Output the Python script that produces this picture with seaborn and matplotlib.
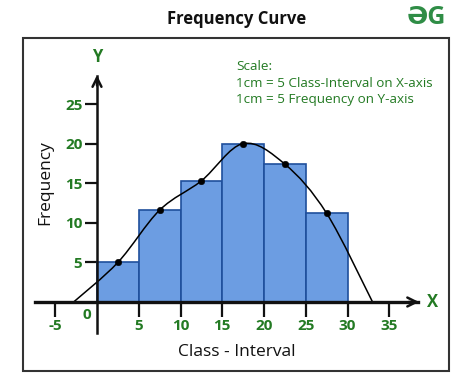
import numpy as np
import pandas as pd
import matplotlib
matplotlib.use("Agg")
import matplotlib.pyplot as plt
import seaborn as sns
from matplotlib.path import Path
from matplotlib.patches import PathPatch, Rectangle

# ---- data ----
class_edges = [0, 5, 10, 15, 20, 25, 30]
class_mids = [2.5, 7.5, 12.5, 17.5, 22.5, 27.5]
frequencies = [5, 11.6, 15.3, 20, 17.4, 11.2]
curve_start = (-2.8, 0)
curve_end = (33.0, 0)
x_tick_values = [-5, 5, 10, 15, 20, 25, 30, 35]
y_tick_values = [5, 10, 15, 20, 25]
scale_lines = ["Scale:", "1cm = 5 Class-Interval on X-axis", "1cm = 5 Frequency on Y-axis"]

GREEN = "#237a23"
BAR = "#6c9de2"
EDGE = "#1f4f9c"
FONT = ["Open Sans", "DejaVu Sans"]

sns.set_style("white")
plt.rcParams["font.family"] = FONT

W, H = 474, 392
fig = plt.figure(figsize=(W / 100, H / 100), dpi=100)
# axes box = frame (23,38)-(449,371) in pixels
ax = fig.add_axes([23 / W, 1 - 371 / H, (449 - 23) / W, (371 - 38) / H])

px_x = 8.35
px_y = 7.92
x0p, y0p = 97, 302
ax.set_xlim((23 - x0p) / px_x, (449 - x0p) / px_x)
ax.set_ylim((y0p - 371) / px_y, (y0p - 38) / px_y)

df = pd.DataFrame({"mid": class_mids, "freq": frequencies})
sns.histplot(data=df, x="mid", weights="freq", bins=class_edges, ax=ax,
             color=BAR, alpha=1, edgecolor=EDGE, linewidth=1.2, zorder=2)

# smooth curve (Catmull-Rom -> Bezier) through the points
pts = np.array([curve_start] + list(zip(class_mids, frequencies)) + [curve_end], dtype=float)
ext = np.vstack([pts[0], pts, pts[-1]])
verts = [tuple(pts[0])]
codes = [Path.MOVETO]
for i in range(1, len(ext) - 2):
    p0, p1, p2, p3 = ext[i - 1], ext[i], ext[i + 1], ext[i + 2]
    c1 = p1 + (p2 - p0) / 6
    c2 = p2 - (p3 - p1) / 6
    verts += [tuple(c1), tuple(c2), tuple(p2)]
    codes += [Path.CURVE4] * 3
ax.add_patch(PathPatch(Path(verts, codes), facecolor="none", edgecolor="black", lw=1.1, zorder=4))
sns.scatterplot(x=class_mids, y=frequencies, ax=ax, color="black", s=22, zorder=5, edgecolor="black")

# axes lines as spines
for s in ["top", "right"]:
    ax.spines[s].set_visible(False)
ax.spines["left"].set_position(("data", 0))
ax.spines["bottom"].set_position(("data", 0))
ax.spines["left"].set_bounds(-3.9, 28.5)
ax.spines["bottom"].set_bounds(-7.4, 38.5)
ax.spines["left"].set_linewidth(1.8)
ax.spines["bottom"].set_linewidth(2.4)
ax.spines["left"].set_color("#111")
ax.spines["bottom"].set_color("#111")
ax.spines["left"].set_zorder(6)
ax.spines["bottom"].set_zorder(6)
ax.annotate("", xy=(0, 29.0), xytext=(0, 27.0),
            arrowprops=dict(arrowstyle="->", lw=1.8, color="#111", mutation_scale=16))
ax.annotate("", xy=(38.9, 0), xytext=(37.0, 0),
            arrowprops=dict(arrowstyle="->", lw=1.8, color="#111", mutation_scale=16))

ax.set_xticks(x_tick_values)
ax.set_xticklabels([str(v) for v in x_tick_values])
ax.set_yticks(y_tick_values)
ax.set_yticklabels([str(v) for v in y_tick_values])
ax.tick_params(axis="x", direction="out", length=10.5, width=1.6, color="#111", pad=2,
               labelsize=11, labelcolor=GREEN, bottom=True)
ax.tick_params(axis="y", direction="out", length=8.5, width=1.6, color="#111", pad=2,
               labelsize=11, labelcolor=GREEN, left=True)
for lab in ax.get_xticklabels() + ax.get_yticklabels():
    lab.set_fontweight("bold")
ax.set_xlabel("")
ax.set_ylabel("")
ax.text(-1.25, -1.6, "0", color=GREEN, fontsize=11, fontweight="bold", ha="center", va="center")
ax.text(40.2, 0, "X", color=GREEN, fontsize=12, fontweight="bold", ha="center", va="center")
ax.text(0, 30.9, "Y", color=GREEN, fontsize=12, fontweight="bold", ha="center", va="center")
ax.grid(False)

# frame
ax.add_patch(Rectangle((0, 0), 1, 1, transform=ax.transAxes, fill=False,
                       edgecolor="#333", lw=1.5, clip_on=False, zorder=10))

# texts
fig.text(237 / W, 1 - 19 / H, "Frequency Curve", ha="center", va="center",
         fontsize=12, fontweight="bold", color="#111")
fig.text(237 / W, 1 - 352 / H, "Class - Interval", ha="center", va="center",
         fontsize=12.5, color="#111")
fig.text(45 / W, 1 - 183 / H, "Frequency", ha="center", va="center", rotation=90,
         fontsize=12.5, color="#111")
for i, line in enumerate(scale_lines):
    fig.text(236 / W, 1 - (67 + 16.5 * i) / H, line, ha="left", va="center",
             fontsize=9.7, color=GREEN)
fig.text(426 / W, 1 - 18 / H, "ƏG", ha="center", va="center", fontsize=18,
         fontweight="bold", color="#2f8d46")

fig.savefig("out.png", dpi=100)
